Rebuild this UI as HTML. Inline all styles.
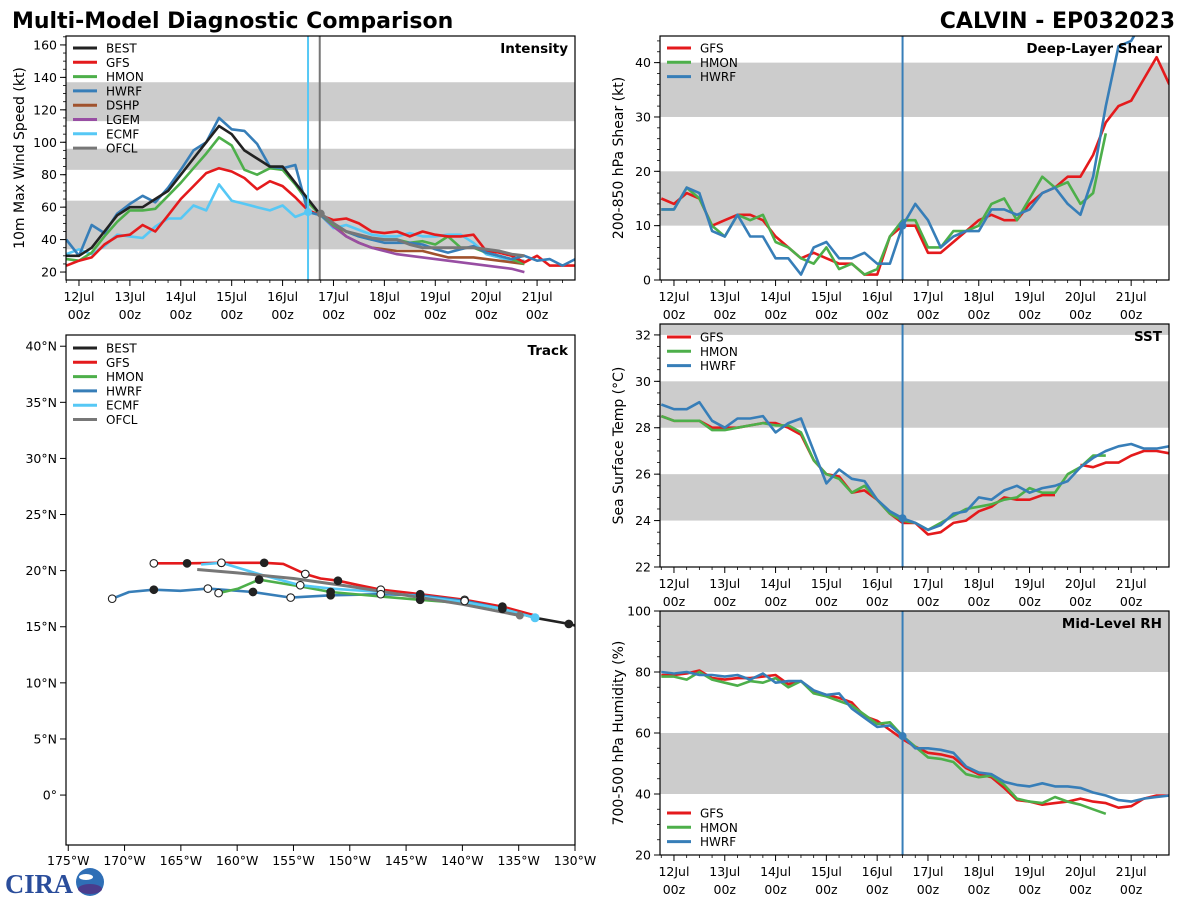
<!DOCTYPE html>
<html><head><meta charset="utf-8"><title>Multi-Model Diagnostic Comparison</title>
<style>
html,body{margin:0;padding:0;background:#fff;}
svg{display:block;font-family:"DejaVu Sans","Liberation Sans",sans-serif;}
</style></head>
<body>
<svg id="chart" width="1200" height="900" viewBox="0 0 1200 900" xmlns="http://www.w3.org/2000/svg">
<text x="12" y="28" font-size="22" font-weight="bold" fill="#000">Multi-Model Diagnostic Comparison</text>
<text x="1175" y="28" font-size="22" font-weight="bold" fill="#000" text-anchor="end">CALVIN - EP032023</text>
<g>
<text x="5" y="893" font-size="27" font-weight="bold" fill="#2a4d9b" font-family="Liberation Serif, serif" textLength="68" lengthAdjust="spacingAndGlyphs">CIRA</text>
<circle cx="90" cy="882" r="14" fill="#2f6fb6"></circle>
<ellipse cx="90" cy="889" rx="12" ry="5" fill="#4a3c8c"></ellipse>
<ellipse cx="86" cy="877" rx="7" ry="3" fill="#fff"></ellipse>
</g>
</svg>
<script>
// ---------- data: time axes (days since 12Jul 00z, 6-hourly) ----------
const dayLabels = ['12Jul','13Jul','14Jul','15Jul','16Jul','17Jul','18Jul','19Jul','20Jul','21Jul'];
const tStart = -0.25;
const tStep = 0.25;
// Intensity (kt)
const intBEST = [30,30,35,45,55,60,60,65,70,80,90,100,110,105,95,90,85,85,75,65,55];
const intGFS = [24,27,29,37,42,43,49,45,55,65,73,81,84,82,78,71,76,73,66,58,55,52,53,50,45,44,45,42,45,43,42,42,43,33,32,30,26,30,24,24,24];
const intHMON = [28,27,32,42,51,58,58,59,67,75,84,93,103,98,83,80,84,83,74,63,55,49,45,42,40,40,40,38,39,37,42,35,35,32,30,28,25];
const intHWRF = [40,30,49,44,56,62,67,63,72,83,95,100,115,108,107,99,85,84,86,57,55,50,45,42,40,38,38,38,37,34,32,34,36,32,30,28,30,27,28,24,28];
const intECMF = [31,34,31,36,43,42,41,48,53,53,61,58,74,64,62,60,58,61,54,57,55,47,49,46,43,42,42,44,42,42,43,43,38,31,29,27,27];
const fcstStart = 4.75;
const intDSHP = [55,49,42,38,35,34,33,33,33,31,29,29,29,28,27,26,25];
const intLGEM = [55,48,42,38,35,33,31,30,29,28,27,26,25,24,23,22,20];
const intOFCL = [56,50,45,43,41,40,40,37,35,35,35,35,35,34,33,31,30];
const intTicks = [20,40,60,80,100,120,140,160];
const intBands = [[34,64],[83,96],[113,137]];
// Shear (kt)
const shrGFS = [15,14,16,15,10,11,12,12,11,8,6,4,5,4,3,3,1,1,8,10,10,5,5,7,9,11,12,11,11,14,16,17,19,19,23,29,32,33,37,41,36];
const shrHMON = [13,13,17,15,10,8,12,11,12,7,6,4,3,6,2,3,1,2,8,11,11,6,6,9,9,10,14,15,11,15,19,17,18,14,16,27];
const shrHWRF = [13,13,17,16,9,8,12,8,8,4,4,1,6,7,4,4,5,3,3,10,14,11,6,8,9,9,13,13,12,13,16,17,14,12,19,32,43,44,48];
const shrTicks = [0,10,20,30,40];
const shrBands = [[10,20],[30,40]];
// SST (C)
const sstGFS = [28.5,28.3,28.3,28.3,28.0,28.0,28.0,28.1,28.2,28.2,28.0,27.7,26.6,26.0,25.9,25.2,25.3,24.9,24.3,23.9,23.9,23.4,23.5,23.9,24.0,24.4,24.6,25.0,24.9,24.9,25.1,25.1,null,26.4,26.3,26.5,26.5,26.8,27.0,27.0,26.9];
const sstHMON = [28.5,28.3,28.3,28.3,27.9,27.9,28.0,28.1,28.2,28.1,28.1,27.8,26.6,26.0,25.8,25.2,25.5,24.9,24.3,24.0,23.9,23.6,23.9,24.2,24.5,24.6,24.7,24.9,25.0,25.4,25.2,25.2,26.0,26.3,26.8,26.8];
const sstHWRF = [29.0,28.8,28.8,29.1,28.3,28.0,28.4,28.4,28.5,27.8,28.2,28.4,27.0,25.6,26.2,25.8,25.7,24.9,24.4,24.1,23.9,23.6,23.8,24.3,24.4,25.0,24.9,25.3,25.5,25.2,25.4,25.5,25.7,26.3,26.7,27.0,27.2,27.3,27.1,27.1,27.2];
const sstTicks = [22,24,26,28,30,32];
const sstBands = [[24,26],[28,30],[32,33]];
// RH (%)
const rhGFS = [79,79,79.5,80.5,78,77.5,78,78,78.5,79,76,77,73.5,72.5,71.5,70,65.5,64,61,58,55.5,53.5,53,52,48.5,46.5,45.5,42,38,37.5,36.5,37,37.5,38.5,37.5,37,35.5,36,38.5,39.5,39.5];
const rhHMON = [78.5,78.5,77.5,80,77.5,76.5,75.5,77,76.5,78,75,77,73,72,70.5,69,66,63,63.5,59,55.5,52,51.5,50.5,46.5,45.5,46,43,38.5,37.5,37,39,37.5,36.5,35,33.5];
const rhHWRF = [80,79.5,80,79,79,78.5,79,77.5,79.5,76.5,77,77,74,72.5,73,68,65,62,62.5,59,55,55,54.5,53.5,49,47,46.5,44,43,42.5,43.5,42.5,42.5,42,40.5,39.5,38,37.5,38.5,39,39.5];
const rhTicks = [20,40,60,80,100];
const rhBands = [[40,60],[80,100]];
// Track (lon, lat)
const trkBESTlon = [-128,-130.55,-133.55];
const trkBESTlat = [14.6,15.25,15.8];
const trkGFSlon = [-133.55,-136.45,-139.8,-143.75,-147.25,-149.2,-151.05,-152.6,-153.95,-155.9,-157.6,-161.4,-164.45,-167.4];
const trkGFSlat = [16.0,16.8,17.4,17.9,18.3,18.7,19.1,19.3,19.7,20.6,20.7,20.7,20.65,20.65];
const trkHWRFlon = [-133.55,-136.45,-139.8,-143.75,-147.25,-151.7,-155.25,-158.6,-162.6,-165.05,-167.4,-169.6,-171.1];
const trkHWRFlat = [15.8,16.6,17.3,17.8,17.9,17.8,17.6,18.1,18.4,18.2,18.3,18.1,17.5];
const trkHMONlon = [-133.55,-136.45,-139.8,-143.75,-147.25,-151.7,-154.4,-158.05,-159.9,-161.65];
const trkHMONlat = [15.8,16.6,17.1,17.4,17.7,18.1,18.6,19.2,18.4,18.0];
const trkECMFlon = [-133.55,-136.45,-139.8,-143.75,-147.25,-151.7,-154.4,-157.75,-161.4,-163.2];
const trkECMFlat = [15.8,16.6,17.2,17.7,18.1,18.4,18.7,19.6,20.7,20.55];
const trkOFCLlon = [-134.9,-140,-145,-150,-155,-160,-163.55];
const trkOFCLlat = [16.0,17.0,17.8,18.6,19.3,19.8,20.1];
const dotsGFS = [1,2,3,4,6,8,10,11,12,13];
const dotsGFSfill = [1,0,1,0,1,0,1,0,1,0];
const dotsHWRF = [1,2,3,4,5,6,7,8,10,12];
const dotsHWRFfill = [1,0,1,0,1,0,1,0,1,0];
const dotsHMON = [3,5,7,9];
const dotsHMONfill = [1,1,1,0];
const dotsECMF = [6,8];
const dotsECMFfill = [0,0];
const lonTicks = [-175,-170,-165,-160,-155,-150,-145,-140,-135,-130];
const latTicks = [0,5,10,15,20,25,30,35,40];

const C = {BEST:'#222222',GFS:'#e41a1c',HMON:'#4daf4a',HWRF:'#377eb8',DSHP:'#a0522d',LGEM:'#984ea3',ECMF:'#56c8f5',OFCL:'#777777'};
const svg = document.getElementById('chart');
const NS = 'http://www.w3.org/2000/svg';
function el(tag, attrs, parent){const e=document.createElementNS(NS,tag);for(const k in attrs)e.setAttribute(k,attrs[k]);(parent||svg).appendChild(e);return e;}

function timePanel(p){
  const g = el('g',{});
  
  
  const xs = t => p.x0 + (t - p.tmin) / (p.tmax - p.tmin) * (p.x1 - p.x0);
  const ys = v => p.y1 - (v - p.ymin) / (p.ymax - p.ymin) * (p.y1 - p.y0);
  const clipId = 'clip-' + p.name;
  const cp = el('clipPath',{id:clipId},g);
  el('rect',{x:p.x0,y:p.y0,width:p.x1-p.x0,height:p.y1-p.y0},cp);
  p.bands.forEach(b=>{
    const r = el('rect',{x:p.x0,y:Math.max(p.y0,ys(b[1])),width:p.x1-p.x0,height:Math.min(p.y1,ys(b[0]))-Math.max(p.y0,ys(b[1])),fill:'#cccccc'},g);
    
    
  });
  p.yticks.forEach(v=>{
    el('line',{x1:p.x0-6,x2:p.x0,y1:ys(v),y2:ys(v),stroke:'#000','stroke-width':1},g);
    const t = el('text',{x:p.x0-9,y:ys(v)+4.5,'font-size':12.5,'text-anchor':'end'},g);
    t.textContent = v;
    
    
  });
  for(let v=p.ymin; v<=p.ymax; v+=p.yminor){
    const vv = Math.round(v/p.yminor)*p.yminor;
    if(vv<p.ymin) continue;
    el('line',{x1:p.x0-3,x2:p.x0,y1:ys(vv),y2:ys(vv),stroke:'#000','stroke-width':0.8},g);
  }
  for(let t=-0.25; t<=p.tmax; t+=0.25){
    const major = Math.abs(t-Math.round(t))<1e-6;
    el('line',{x1:xs(t),x2:xs(t),y1:p.y1,y2:p.y1+(major?6:3),stroke:'#000','stroke-width':major?1:0.8},g);
  }
  dayLabels.forEach((d,i)=>{
    const t1 = el('text',{x:xs(i),y:p.y1+21,'font-size':12.5,'text-anchor':'middle'},g);
    t1.textContent = d;
    
    
    const t2 = el('text',{x:xs(i),y:p.y1+39,'font-size':12.5,'text-anchor':'middle'},g);
    t2.textContent = '00z';
    
    
  });
  const lg = el('g',{'clip-path':'url(#'+clipId+')'},g);
  p.series.forEach(s=>{
    let d='', pen=false;
    s.data.forEach((v,i)=>{
      if(v===null){pen=false;return;}
      const t = s.t0 + i*tStep;
      d += (pen?'L':'M') + xs(t).toFixed(1) + ',' + ys(v).toFixed(1);
      pen=true;
    });
    const path = el('path',{d:d,fill:'none',stroke:C[s.key],'stroke-width':s.w||2.6,'stroke-linejoin':'round'},lg);
    
    
  });
  p.vlines.forEach(v=>{
    const l = el('line',{x1:xs(v.t),x2:xs(v.t),y1:p.y0,y2:p.y1,stroke:v.c,'stroke-width':2},g);
    
    
  });
  p.dots.forEach(dd=>{
    const c = el('circle',{cx:xs(dd.t),cy:ys(dd.v),r:4,fill:dd.c},g);
    
    
  });
  el('rect',{x:p.x0,y:p.y0,width:p.x1-p.x0,height:p.y1-p.y0,fill:'none',stroke:'#000','stroke-width':1.2},g);
  const ti = el('text',{x:p.x1-7,y:p.y0+17,'font-size':13.5,'font-weight':'bold','text-anchor':'end'},g);
  ti.textContent = p.title;
  
  
  const yc = (p.y0+p.y1)/2;
  const yl = el('text',{x:p.ylx,y:yc,'font-size':14,'text-anchor':'middle',transform:'rotate(-90 '+p.ylx+' '+yc+')'},g);
  yl.textContent = p.ylabel;
  
  
  legend(g, p.x0, p.legY, p.legend);
}

function legend(g, x0, y, keys){
  keys.forEach((k,i)=>{
    const yy = y + i*14.3;
    const e = el('g',{},g);
    
    
    el('line',{x1:x0+7,x2:x0+31,y1:yy,y2:yy,stroke:C[k],'stroke-width':3},e);
    const t = el('text',{x:x0+40,y:yy+4.5,'font-size':12},e);
    t.textContent = k;
  });
}

timePanel({name:'intensity-panel',x0:66,x1:575,y0:36,y1:280,tmin:-0.255,tmax:9.745,ymin:15.1,ymax:165.5,
  yticks:intTicks,yminor:5,bands:intBands,title:'Intensity',ylabel:'10m Max Wind Speed (kt)',ylx:24,legY:48,
  legend:['BEST','GFS','HMON','HWRF','DSHP','LGEM','ECMF','OFCL'],
  series:[{key:'ECMF',data:intECMF,t0:tStart},{key:'DSHP',data:intDSHP,t0:fcstStart},{key:'LGEM',data:intLGEM,t0:fcstStart},
    {key:'HMON',data:intHMON,t0:tStart},{key:'GFS',data:intGFS,t0:tStart},{key:'HWRF',data:intHWRF,t0:tStart},
    {key:'BEST',data:intBEST,t0:tStart},{key:'OFCL',data:intOFCL,t0:fcstStart,w:3}],
  vlines:[{t:4.5,c:C.ECMF},{t:4.73,c:C.OFCL}],
  dots:[{t:4.5,v:intECMF[19],c:C.ECMF},{t:4.75,v:intOFCL[0],c:C.OFCL}]});

timePanel({name:'shear-panel',x0:660,x1:1169,y0:36,y1:280,tmin:-0.275,tmax:9.745,ymin:0,ymax:44.9,
  yticks:shrTicks,yminor:2,bands:shrBands,title:'Deep-Layer Shear',ylabel:'200-850 hPa Shear (kt)',ylx:623,legY:48,
  legend:['GFS','HMON','HWRF'],
  series:[{key:'GFS',data:shrGFS,t0:tStart},{key:'HMON',data:shrHMON,t0:tStart},{key:'HWRF',data:shrHWRF,t0:tStart}],
  vlines:[{t:4.5,c:C.HWRF}],dots:[{t:4.5,v:shrHWRF[19],c:C.HWRF}]});

timePanel({name:'sst-panel',x0:660,x1:1169,y0:324,y1:567,tmin:-0.275,tmax:9.745,ymin:22,ymax:32.47,
  yticks:sstTicks,yminor:0.5,bands:sstBands,title:'SST',ylabel:'Sea Surface Temp (°C)',ylx:623,legY:337,
  legend:['GFS','HMON','HWRF'],
  series:[{key:'GFS',data:sstGFS,t0:tStart},{key:'HMON',data:sstHMON,t0:tStart},{key:'HWRF',data:sstHWRF,t0:tStart}],
  vlines:[{t:4.5,c:C.HWRF}],dots:[{t:4.5,v:sstHWRF[19],c:C.HWRF}]});

timePanel({name:'rh-panel',x0:660,x1:1169,y0:611,y1:855,tmin:-0.275,tmax:9.745,ymin:20,ymax:100,
  yticks:rhTicks,yminor:5,bands:rhBands,title:'Mid-Level RH',ylabel:'700-500 hPa Humidity (%)',ylx:623,legY:813,
  legend:['GFS','HMON','HWRF'],
  series:[{key:'GFS',data:rhGFS,t0:tStart},{key:'HMON',data:rhHMON,t0:tStart},{key:'HWRF',data:rhHWRF,t0:tStart}],
  vlines:[{t:4.5,c:C.HWRF}],dots:[{t:4.5,v:rhHWRF[19],c:C.HWRF}]});

(function(){
  const x0=66,x1=575,y0=335,y1=845;
  const lonMin=-175.2,lonMax=-130, latMin=-4.45, latMax=41;
  const xs = lon => x0 + (lon-lonMin)/(lonMax-lonMin)*(x1-x0);
  const ys = lat => y1 - (lat-latMin)/(latMax-latMin)*(y1-y0);
  const g = el('g',{});
  
  
  const cp = el('clipPath',{id:'clip-track'},g);
  el('rect',{x:x0,y:y0,width:x1-x0,height:y1-y0},cp);
  lonTicks.forEach(v=>{
    el('line',{x1:xs(v),x2:xs(v),y1:y1,y2:y1+6,stroke:'#000'},g);
    const t = el('text',{x:xs(v),y:y1+20,'font-size':12.5,'text-anchor':'middle'},g);
    t.textContent = Math.abs(v)+'°W';
    
    
  });
  latTicks.forEach(v=>{
    el('line',{x1:x0-6,x2:x0,y1:ys(v),y2:ys(v),stroke:'#000'},g);
    const t = el('text',{x:x0-9,y:ys(v)+4.5,'font-size':12.5,'text-anchor':'end'},g);
    t.textContent = v===0 ? '0°' : v+'°N';
    
    
  });
  const lg = el('g',{'clip-path':'url(#clip-track)'},g);
  const tracks = [
    {key:'GFS',lon:trkGFSlon,lat:trkGFSlat,dots:dotsGFS,fill:dotsGFSfill},
    {key:'HWRF',lon:trkHWRFlon,lat:trkHWRFlat,dots:dotsHWRF,fill:dotsHWRFfill},
    {key:'HMON',lon:trkHMONlon,lat:trkHMONlat,dots:dotsHMON,fill:dotsHMONfill},
    {key:'ECMF',lon:trkECMFlon,lat:trkECMFlat,dots:dotsECMF,fill:dotsECMFfill},
    {key:'OFCL',lon:trkOFCLlon,lat:trkOFCLlat,dots:[],fill:[]},
    {key:'BEST',lon:trkBESTlon,lat:trkBESTlat,dots:[1],fill:[1]}
  ];
  tracks.forEach(tr=>{
    const d = tr.lon.map((lo,i)=>(i?'L':'M')+xs(lo).toFixed(1)+','+ys(tr.lat[i]).toFixed(1)).join('');
    const p = el('path',{d:d,fill:'none',stroke:C[tr.key],'stroke-width':tr.key==='OFCL'?3:2.6,'stroke-linejoin':'round'},lg);
    
    
  });
  tracks.forEach(tr=>{
    tr.dots.forEach((idx,j)=>{
      const c = el('circle',{cx:xs(tr.lon[idx]),cy:ys(tr.lat[idx]),r:3.8,fill:tr.fill[j]?'#222':'#fff',stroke:'#222','stroke-width':1.1},lg);
      
      
    });
  });
  const c1 = el('circle',{cx:xs(trkECMFlon[0]),cy:ys(trkECMFlat[0]),r:4.5,fill:C.ECMF},lg);
  
  
  const c2 = el('circle',{cx:xs(trkOFCLlon[0]),cy:ys(trkOFCLlat[0]),r:4,fill:C.OFCL},lg);
  
  
  el('rect',{x:x0,y:y0,width:x1-x0,height:y1-y0,fill:'none',stroke:'#000','stroke-width':1.2},g);
  const ti = el('text',{x:x1-7,y:y0+20,'font-size':13.5,'font-weight':'bold','text-anchor':'end'},g);
  ti.textContent = 'Track';
  
  
  legend(g, x0, 348, ['BEST','GFS','HMON','HWRF','ECMF','OFCL']);
})();
</script>
</body></html>
